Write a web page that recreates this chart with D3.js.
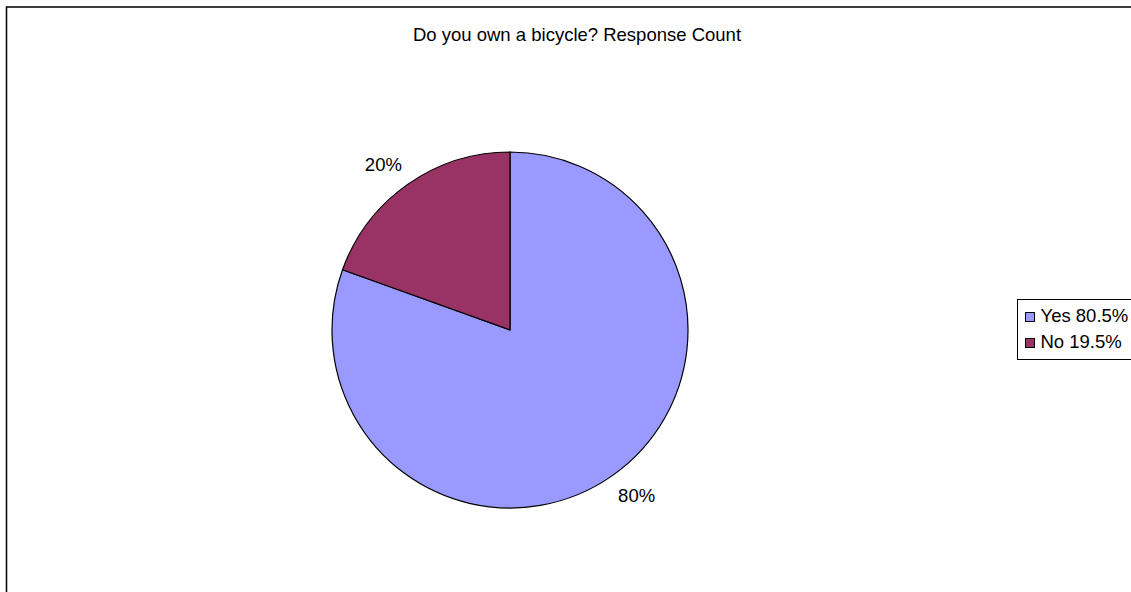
<!DOCTYPE html>
<html>
<head>
<meta charset="utf-8">
<script src="https://cdn.jsdelivr.net/npm/d3@7"></script>
<style>
  html, body { margin: 0; padding: 0; background: #fff; }
  svg { display: block; font-family: "Liberation Sans", Arial, sans-serif; }
</style>
</head>
<body>
<svg id="chart" width="1131" height="592"></svg>
<script>
// ---- data ----
const title = "Do you own a bicycle? Response Count";
const categories = ["Yes", "No"];
const percents = [80.5, 19.5];
const sliceLabels = ["80%", "20%"];
const legendLabels = ["Yes 80.5%", "No 19.5%"];
const colors = ["#9999FF", "#993366"];

// ---- layout ----
const W = 1131, H = 592;
const cx = 510, cy = 330, R = 178, labelR = 208;
const labelAngleShift = -2.4 * Math.PI / 180;
const fontSize = 18.5;

const svg = d3.select("#chart");

// chart area border (extends past right/bottom edge)
svg.append("rect")
  .attr("x", 6.5).attr("y", 7)
  .attr("width", W + 20).attr("height", H + 20)
  .attr("fill", "#fff").attr("stroke", "#000").attr("stroke-width", 1.5);

// title
svg.append("text")
  .attr("x", 577).attr("y", 41)
  .attr("text-anchor", "middle")
  .attr("font-size", fontSize)
  .attr("fill", "#000")
  .text(title);

const color = d3.scaleOrdinal().domain(categories).range(colors);

const pie = d3.pie().sort(null).value(d => d.value);
const data = categories.map((c, i) => ({ cat: c, value: percents[i], label: sliceLabels[i] }));
const arcs = pie(data);

const arc = d3.arc().innerRadius(0).outerRadius(R);

const g = svg.append("g").attr("transform", `translate(${cx},${cy})`);

g.selectAll("path.slice")
  .data(arcs)
  .join("path")
  .attr("class", "slice")
  .attr("d", arc)
  .attr("fill", d => color(d.data.cat))
  .attr("stroke", "#000")
  .attr("stroke-width", 1.2)
  .attr("stroke-linejoin", "round");

g.selectAll("text.lbl")
  .data(arcs)
  .join("text")
  .attr("class", "lbl")
  .attr("transform", d => {
    const a = (d.startAngle + d.endAngle) / 2 + labelAngleShift;
    return `translate(${labelR * Math.sin(a)},${-labelR * Math.cos(a)})`;
  })
  .attr("text-anchor", "middle")
  .attr("dy", "0.35em")
  .attr("font-size", fontSize)
  .attr("fill", "#000")
  .text(d => d.data.label);

// legend
const lg = svg.append("g").attr("transform", "translate(1017.5,299.5)");
lg.append("rect")
  .attr("x", 0).attr("y", 0)
  .attr("width", 140).attr("height", 60)
  .attr("fill", "#fff").attr("stroke", "#000").attr("stroke-width", 1);

const items = lg.selectAll("g.item")
  .data(categories)
  .join("g")
  .attr("class", "item")
  .attr("transform", (d, i) => `translate(8,${13 + i * 26})`);

items.append("rect")
  .attr("x", 0).attr("y", 0)
  .attr("width", 9).attr("height", 9)
  .attr("fill", d => color(d))
  .attr("stroke", "#000").attr("stroke-width", 1);

items.append("text")
  .attr("x", 15).attr("y", 9.5)
  .attr("font-size", fontSize)
  .attr("fill", "#000")
  .text((d, i) => legendLabels[i]);
</script>
</body>
</html>
